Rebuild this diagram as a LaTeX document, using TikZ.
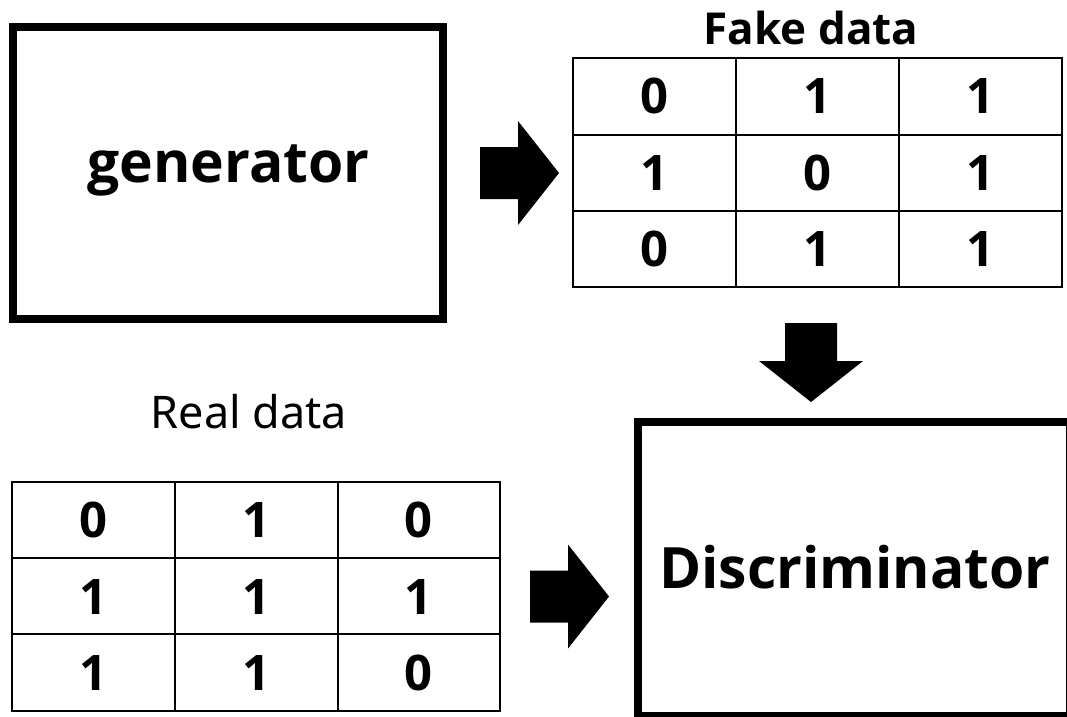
\documentclass[tikz,border=0pt]{standalone}
\usepackage{fontspec}
\setmainfont{Noto Sans}
\newfontfamily\heavysans{Open Sans}
\begin{document}
\begin{tikzpicture}[x=1pt,y=-1pt,
  bigbox/.style={draw=black,line width=8pt,inner sep=0pt,outer sep=0pt},
  gridline/.style={draw=black,line width=2.6pt},
  digit/.style={anchor=base,inner sep=0pt,font=\heavysans\fontsize{49}{49}\selectfont\bfseries},
  title/.style={anchor=base,inner sep=0pt,font=\heavysans\fontsize{44}{44}\selectfont\bfseries},
  plain title/.style={anchor=base,inner sep=0pt,font=\fontsize{45}{45}\selectfont},
  boxlabel/.style={anchor=base,inner sep=0pt,font=\heavysans\fontsize{#1}{#1}\selectfont\bfseries},
  blockarrow/.pic={\fill[black] (0,-26) -- (38,-26) -- (38,-52) -- (79,0) -- (38,52) -- (38,26) -- (0,26) -- cycle;}
]
\useasboundingbox (0,0) rectangle (1067,716);
\clip (0,0) rectangle (1067,716);

% generator block
\node[bigbox,minimum width=430pt,minimum height=292pt] (gen) at (228,173) {};
\node[boxlabel=57] (genlabel) at (228.5,182) {generator};

% discriminator block (runs past the right and bottom edges)
\node[bigbox,minimum width=432pt,minimum height=294pt] (disc) at (854,569) {};
\node[boxlabel=57] (disclabel) at (855,588) {Discriminator};

% fake data table
\node[title] (faketitle) at (811,44) {Fake data};
\draw[gridline] (573,58) rectangle (1062,287);
\foreach \xx in {736,899} \draw[gridline] (\xx,58) -- (\xx,287);
\foreach \yy in {135,211} \draw[gridline] (573,\yy) -- (1062,\yy);
\foreach \r/\a/\b/\c in {1/0/1/1,2/1/0/1,3/0/1/1}
  \foreach \col/\v in {1/\a,2/\b,3/\c}
    \node[digit] (f-\r-\col) at ({573+163*(\col-0.5)},{58+76.33*(\r-0.5)+17.5}) {\v};

% real data table
\node[plain title] (realtitle) at (249,428) {Real data};
\draw[gridline] (12,482) rectangle (500,711);
\foreach \xx in {175,338} \draw[gridline] (\xx,482) -- (\xx,711);
\foreach \yy in {558,634} \draw[gridline] (12,\yy) -- (500,\yy);
\foreach \r/\a/\b/\c in {1/0/1/0,2/1/1/1,3/1/1/0}
  \foreach \col/\v in {1/\a,2/\b,3/\c}
    \node[digit] (r-\r-\col) at ({12+162.67*(\col-0.5)},{482+76.33*(\r-0.5)+17.5}) {\v};

% block arrows
\pic at (480,173) {blockarrow};
\pic[rotate=-90] at (811,323) {blockarrow};
\pic at (530,596.5) {blockarrow};
\end{tikzpicture}
\end{document}
